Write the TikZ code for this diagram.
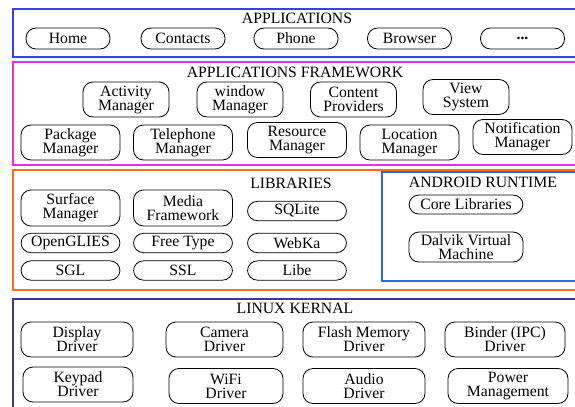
\documentclass[tikz,border=0pt]{standalone}
\usepackage{fontspec}
\setmainfont{Liberation Serif}
\usepackage{tikz}

\definecolor{appblue}{RGB}{60,60,250}
\definecolor{fwmagenta}{RGB}{240,40,240}
\definecolor{liborange}{RGB}{255,110,20}
\definecolor{rtblue}{RGB}{30,110,230}
\definecolor{kernnavy}{RGB}{60,60,140}

\tikzset{
  frame/.style = {line width = 1.3pt},
  title/.style = {inner sep = 0pt, font = \fontsize{11.8}{10.5}\selectfont},
  comp/.style = {draw, line width = 0.6pt, rounded corners = 7.5pt, align = center, inner sep = 0pt, font = \fontsize{11.8}{10.5}\selectfont},
  pill/.style = {comp, rounded corners = 7.5pt}
}

\begin{document}
\begin{tikzpicture}[x = 0.75pt, y = -0.75pt]

\useasboundingbox ( 0, 0 ) rectangle ( 575, 407 );
\clip ( 0, 0 ) rectangle ( 575, 407 );

% Applications
\draw [frame, appblue] ( 13, 9 ) rectangle ( 600, 57 );
\node [title] (apptitle) at ( 297, 18 ) {APPLICATIONS};
\begin{scope}[every node/.style = {pill, minimum width = 63pt, minimum height = 15.75pt}]
\node (home) at ( 68, 38.5 ) {Home};
\node (contacts) at ( 183, 38.5 ) {Contacts};
\node (phone) at ( 296, 38.5 ) {Phone};
\node (browser) at ( 409.5, 38.5 ) {Browser};
\node (more) at ( 522.5, 38.5 ) {\textbf{...}};
\end{scope}

% Applications framework
\draw [frame, fwmagenta] ( 13, 62 ) rectangle ( 600, 165 );
\node [title] (fwtitle) at ( 295, 72 ) {APPLICATIONS FRAMEWORK};
\begin{scope}[every node/.style = {comp, minimum width = 64.5pt, minimum height = 26.25pt}]
\node (activity) at ( 126, 99.5 ) {Activity\\Manager};
\node (window) at ( 240, 99.5 ) {window\\Manager};
\node (content) at ( 353.5, 99.5 ) {Content\\Providers};
\node (view) at ( 466, 97 ) {View\\System};
\end{scope}
\begin{scope}[every node/.style = {comp, minimum width = 74.25pt, minimum height = 26.25pt}]
\node (package) at ( 70.5, 142.5 ) {Package\\Manager};
\node (telephone) at ( 183, 142.5 ) {Telephone\\Manager};
\node (resource) at ( 297, 140 ) {Resource\\Manager};
\node (location) at ( 409.5, 142.5 ) {Location\\Manager};
\node (notification) at ( 522.5, 137 ) {Notification\\Manager};
\end{scope}

% Libraries
\draw [frame, liborange] ( 13, 170 ) rectangle ( 600, 290 );
\node [title] (libtitle) at ( 291, 183 ) {LIBRARIES};
\begin{scope}[every node/.style = {comp, minimum width = 74.25pt, minimum height = 27pt}]
\node (surface) at ( 70.5, 208 ) {Surface\\Manager};
\node (media) at ( 183, 208 ) {Media\\Framework};
\end{scope}
\begin{scope}[every node/.style = {pill, minimum width = 74.25pt, minimum height = 14.5pt}]
\node (sqlite) at ( 297, 211 ) {SQLite};
\node (opengl) at ( 70.5, 243 ) {OpenGLIES};
\node (freetype) at ( 183, 243 ) {Free Type};
\node (webka) at ( 297, 243 ) {WebKa};
\node (sgl) at ( 70.5, 270.5 ) {SGL};
\node (ssl) at ( 183, 270.5 ) {SSL};
\node (libe) at ( 297, 270.5 ) {Libe};
\end{scope}

% Android runtime
\draw [frame, rtblue] ( 382, 172 ) rectangle ( 600, 281 );
\node [title] (rttitle) at ( 483, 182 ) {ANDROID RUNTIME};
\begin{scope}[every node/.style = {comp, minimum width = 85.5pt}]
\node [minimum height = 14.25pt] (core) at ( 466, 204.5 ) {Core Libraries};
\node [minimum height = 22.5pt] (dalvik) at ( 466, 247 ) {Dalvik Virtual\\Machine};
\end{scope}

% Linux kernel
\draw [frame, kernnavy] ( 13, 299 ) rectangle ( 600, 420 );
\node [title] (kerntitle) at ( 295, 308 ) {LINUX KERNAL};
\begin{scope}[every node/.style = {comp, minimum height = 26.25pt}]
\node [minimum width = 84pt] (display) at ( 77, 339.5 ) {Display\\Driver};
\node [minimum width = 87.75pt] (camera) at ( 224.5, 339.5 ) {Camera\\Driver};
\node [minimum width = 91.5pt] (flash) at ( 364, 339.5 ) {Flash Memory\\Driver};
\node [minimum width = 90pt] (binder) at ( 505, 339.5 ) {Binder (IPC)\\Driver};
\node [minimum width = 82.5pt] (keypad) at ( 78, 384.5 ) {Keypad\\Driver};
\node [minimum width = 85.5pt] (wifi) at ( 226, 386 ) {WiFi\\Driver};
\node [minimum width = 91.5pt] (audio) at ( 364, 386 ) {Audio\\Driver};
\node [minimum width = 90pt] (power) at ( 508, 386 ) {Power\\Management};
\end{scope}

\end{tikzpicture}
\end{document}
